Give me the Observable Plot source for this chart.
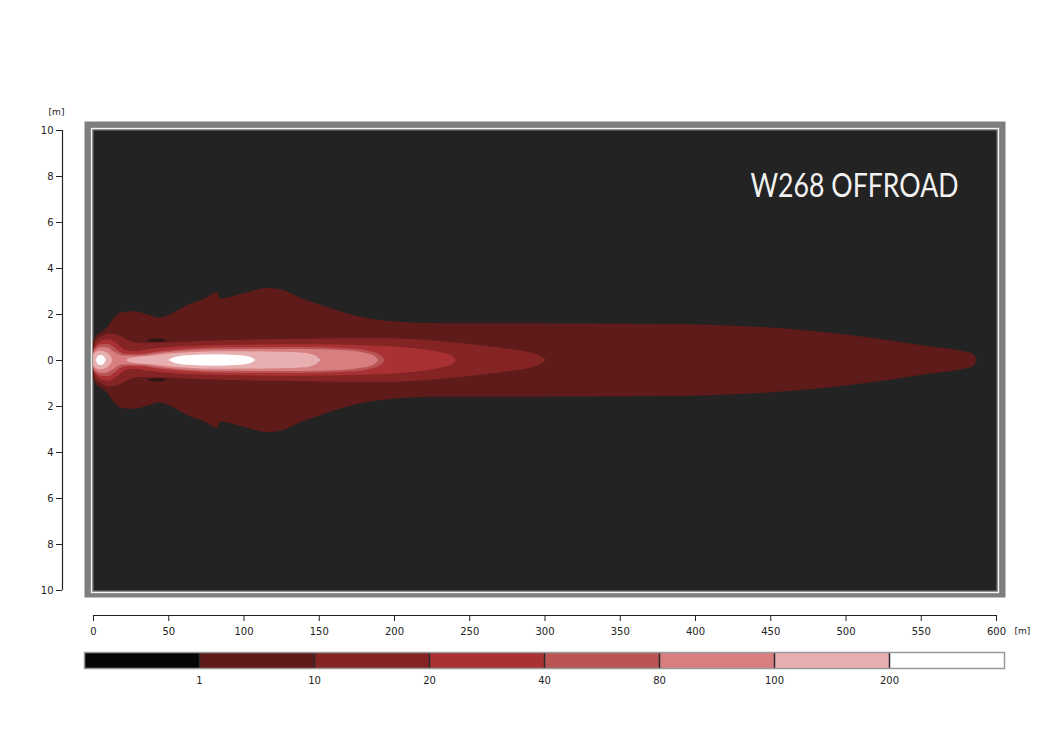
<!DOCTYPE html>
<html><head><meta charset="utf-8">
<script src="https://cdn.jsdelivr.net/npm/d3@7"></script>
<script src="https://cdn.jsdelivr.net/npm/@observablehq/plot@0.6"></script>
<style>
html,body{margin:0;padding:0;background:#fff;}
#chart svg,#legend svg{display:block;}
</style></head><body>
<div id="chart"></div><div id="legend"></div>
<script>
// ---------- data ----------
const title = "W268 OFFROAD";
const unit = "[m]";
const xDomain = [0, 600];
const yDomain = [-10, 10];
const xTicks = [0, 50, 100, 150, 200, 250, 300, 350, 400, 450, 500, 550, 600];
const yTicks = [-10, -8, -6, -4, -2, 0, 2, 4, 6, 8, 10];

// illuminance classes (lx)
const levelThresholds = [1, 10, 20, 40, 80, 100, 200];
const levelColors = ["#060606", "#5f1b1a", "#842424", "#a93134", "#b95555", "#d77e80", "#e8afb1", "#ffffff"];

// isolux contours: [distance m, half-width m] (symmetric about the beam axis)
const iso1 = [[0,0.8],[1.5,1.0],[5,1.2],[9,1.4],[13,1.75],[18,2.05],[25,2.12],[31,2.08],[38,1.95],[44,1.85],[50,1.95],[62,2.38],[75,2.7],[82,2.96],[84.5,2.68],[100,2.9],[115,3.13],[126,3.05],[137,2.72],[151,2.4],[165,2.1],[180,1.85],[200,1.68],[230,1.6],[300,1.6],[380,1.57],[440,1.45],[480,1.25],[520,0.95],[555,0.6],[575,0.42],[585,0.25],[587,0]];
const iso10 = [[0,0.5],[2,0.85],[6,1.05],[11,1.15],[16,1.1],[21,0.95],[26,0.8],[32,0.74],[45,0.75],[71,0.83],[137,0.92],[191,0.96],[215,0.9],[237,0.78],[260,0.62],[277,0.48],[292,0.3],[298,0.15],[301,0]];
const iso20 = [[0,0.4],[2,0.65],[6,0.85],[10,0.9],[14,0.8],[18,0.6],[22,0.42],[27,0.38],[35,0.45],[50,0.55],[84,0.65],[137,0.68],[191,0.62],[215,0.5],[230,0.35],[238,0.2],[241,0]];
const iso40 = [[0,0.35],[2,0.58],[6,0.7],[10,0.7],[14,0.55],[18,0.35],[22,0.27],[28,0.26],[45,0.38],[84,0.55],[137,0.56],[170,0.5],[184,0.38],[191,0.22],[194,0]];
const iso80 = [[0,0.3],[2,0.48],[5,0.55],[9,0.55],[12,0.45],[16,0.28],[20,0.2],[30,0.2],[45,0.32],[84,0.47],[137,0.48],[165,0.43],[180,0.32],[187,0.18],[189.5,0]];
const iso100Head = [[0,0.22],[2,0.36],[5,0.4],[8,0.36],[11,0.22],[13,0]];
const iso100Body = [[22,0],[25,0.1],[40,0.2],[55,0.3],[90,0.38],[125,0.36],[140,0.32],[148,0.18],[151,0]];
const iso200Head = [[2,0],[3,0.17],[5,0.22],[7,0.17],[8.5,0]];
const iso200Body = [[50,0],[55,0.14],[65,0.22],[80,0.25],[95,0.22],[104,0.14],[108,0]];
// small darker pockets: [distance m, lower m, upper m]
const shadowUpper = [[36,0.84,0.84],[40,0.8,0.93],[45,0.8,0.94],[49,0.85,0.85]];
const shadowLower = [[36,-0.84,-0.84],[40,-0.93,-0.8],[45,-0.94,-0.8],[49,-0.85,-0.85]];

// ---------- build ----------
const contours = [
  {level: 1, parts: [iso1]},
  {level: 0, parts: [], pockets: [shadowUpper, shadowLower]},
  {level: 2, parts: [iso10]},
  {level: 3, parts: [iso20]},
  {level: 4, parts: [iso40]},
  {level: 5, parts: [iso80]},
  {level: 6, parts: [iso100Head, iso100Body]},
  {level: 7, parts: [iso200Head, iso200Body]}
];
const pocketColor = "#2c1515";
const frameGray = "#7e7e7e";
const plotBg = "#232323";

const areaMarks = [];
for (const c of contours) {
  for (const p of c.parts) {
    const rows = p.map(([x, w]) => ({x, y1: -w, y2: w}));
    areaMarks.push(Plot.areaY(rows, {x: "x", y1: "y1", y2: "y2", fill: levelColors[c.level], curve: "monotone-x"}));
  }
  for (const p of (c.pockets || [])) {
    const rows = p.map(([x, a, b]) => ({x, y1: a, y2: b}));
    areaMarks.push(Plot.areaY(rows, {x: "x", y1: "y1", y2: "y2", fill: pocketColor, curve: "monotone-x"}));
  }
}

const main = Plot.plot({
  width: 1045, height: 640,
  marginLeft: 93, marginRight: 49, marginTop: 130, marginBottom: 50,
  x: {domain: xDomain},
  y: {domain: yDomain},
  style: {fontFamily: "'DejaVu Sans', sans-serif", fontSize: "10px", color: "#222", background: "white", overflow: "visible"},
  marks: [
    Plot.frame({fill: frameGray, stroke: null, insetLeft: -9, insetRight: -9, insetTop: -9, insetBottom: -7}),
    Plot.frame({stroke: "#f4f4f4", strokeWidth: 1.3, inset: -2}),
    Plot.frame({fill: plotBg, stroke: null}),
    ...areaMarks,
    Plot.text([title], {frameAnchor: "top-right", dx: -38, dy: 56, fontSize: 33, fill: "#f2f2f2", fontFamily: "Lato, 'Open Sans', sans-serif", fontWeight: 400, textAnchor: "end", lineAnchor: "middle", className: "chart-title"}),
    Plot.ruleX([xDomain[0]], {y1: yDomain[0], y2: yDomain[1], dx: -31, stroke: "#222", strokeWidth: 1.2}),
    Plot.axisY(yTicks, {anchor: "left", dx: -31, tickSize: 6, tickPadding: 3, tickFormat: d => Math.abs(d), label: null}),
    Plot.text([unit], {x: xDomain[0], y: yDomain[1], dx: -37, dy: -18, fontSize: 9}),
    Plot.ruleY([yDomain[0]], {x1: xDomain[0], x2: xDomain[1], dy: 25, stroke: "#222", strokeWidth: 1.2}),
    Plot.axisX(xTicks, {anchor: "bottom", dy: 25, tickSize: 6, tickPadding: 6, label: null}),
    Plot.text([unit], {x: xDomain[1], y: yDomain[0], dx: 18, dy: 41, textAnchor: "start", fontSize: 9})
  ]
});
document.getElementById("chart").append(main);
d3.select(main).selectAll(".chart-title text").attr("textLength", 208).attr("lengthAdjust", "spacingAndGlyphs");

const legend = Plot.plot({
  width: 1045, height: 111,
  marginLeft: 84, marginRight: 41, marginTop: 12, marginBottom: 83,
  x: {domain: [0, levelColors.length], axis: null},
  y: {axis: null},
  color: {type: "identity"},
  style: {fontFamily: "'DejaVu Sans', sans-serif", fontSize: "10px", color: "#222", background: "white", overflow: "visible"},
  marks: [
    Plot.rect(levelColors, {x1: (d, i) => i, x2: (d, i) => i + 1, fill: d => d}),
    Plot.ruleX(levelThresholds.map((t, i) => i + 1), {stroke: "#2a2a2a", strokeWidth: 1.5}),
    Plot.frame({stroke: "#9a9a9a", strokeWidth: 1.5}),
    Plot.axisX(levelThresholds.map((t, i) => i + 1), {anchor: "bottom", tickSize: 0, tickPadding: 8, tickFormat: i => levelThresholds[i - 1], label: null})
  ]
});
document.getElementById("legend").append(legend);
</script></body></html>
